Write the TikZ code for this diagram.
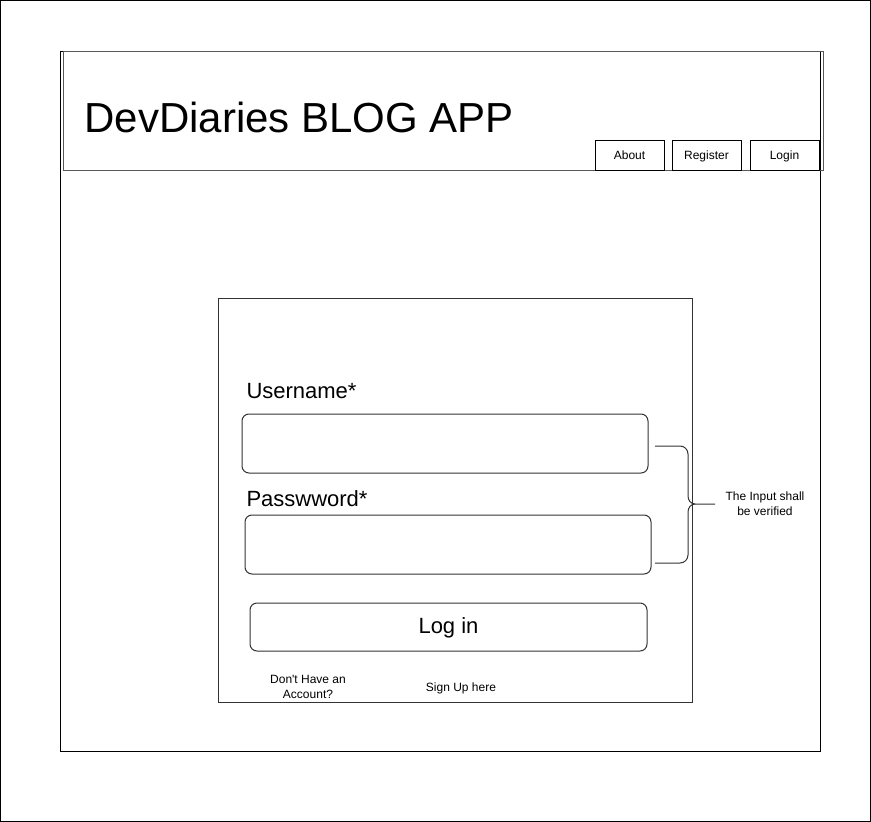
\documentclass[tikz,border=0pt]{standalone}
\usepackage{fontspec}
\setmainfont{Liberation Sans}
\usepackage{tikz}

\tikzset{
  navbtn/.style={draw=black, minimum width=69pt, minimum height=30pt, inner sep=0pt, text height=10pt, text depth=1pt, font=\fontsize{12}{14}\selectfont},
  field/.style={draw=black!80, line width=1pt, rounded corners=7pt, inner sep=0pt},
  label/.style={anchor=west, inner sep=0pt, font=\fontsize{22}{26}\selectfont},
  small/.style={align=center, inner sep=0pt, font=\fontsize{12}{15}\selectfont}
}

\begin{document}
\begin{tikzpicture}[x=1pt, y=-1pt, line width=1pt]
        \useasboundingbox (0, 0) rectangle (871, 822);
        \draw[black] (0.5, 0.5) rectangle (870, 821);
        % page and header
        \draw[black] (60, 51) rectangle (820, 751);
        \node[draw=black!65, minimum width=760pt, minimum height=119pt, inner sep=0pt] (header) at (443, 110.5) {};
        \node[anchor=west, inner sep=0pt, font=\fontsize{42}{48}\selectfont] (title) at (84, 117) {DevDiaries BLOG APP};
        \node[navbtn] (about) at (629.5, 155) {About};
        \node[navbtn] (register) at (706.5, 155) {Register};
        \node[navbtn] (login) at (784.5, 155) {Login};
        % login form
        \node[draw=black!80, minimum width=474pt, minimum height=404pt, inner sep=0pt] (form) at (455, 500) {};
        \node[label] (userlbl) at (246, 391) {Username*};
        \node[field, minimum width=406pt, minimum height=59pt] (userfield) at (445, 443.5) {};
        \node[label] (passlbl) at (246, 499) {Passwword*};
        \node[field, minimum width=406pt, minimum height=59pt] (passfield) at (448, 544.5) {};
        \node[field, minimum width=397pt, minimum height=48pt, text height=16pt, text depth=3pt, font=\fontsize{22}{26}\selectfont] (loginbtn) at (448.5, 627) {Log in};
        \node[small] (noacc) at (308, 687) {Don\textquotesingle t Have an\\Account?};
        \node[small] (signup) at (461, 688) {Sign Up here};
        % brace
        \coordinate (bt) at (655, 446);
        \coordinate (bb) at (655, 563);
        \node[small] (verify) at (765, 504) {The Input shall\\be verified};
        \draw[black!80] (bt) -- (680, 446) to[out=0, in=90] (688, 454) -- (688, 496) to[out=-90, in=180] (695, 504) -- (verify.west -| 715, 504);
        \draw[black!80] (bb) -- (680, 563) to[out=0, in=-90] (688, 555) -- (688, 512) to[out=90, in=180] (695, 504);
\end{tikzpicture}
\end{document}
